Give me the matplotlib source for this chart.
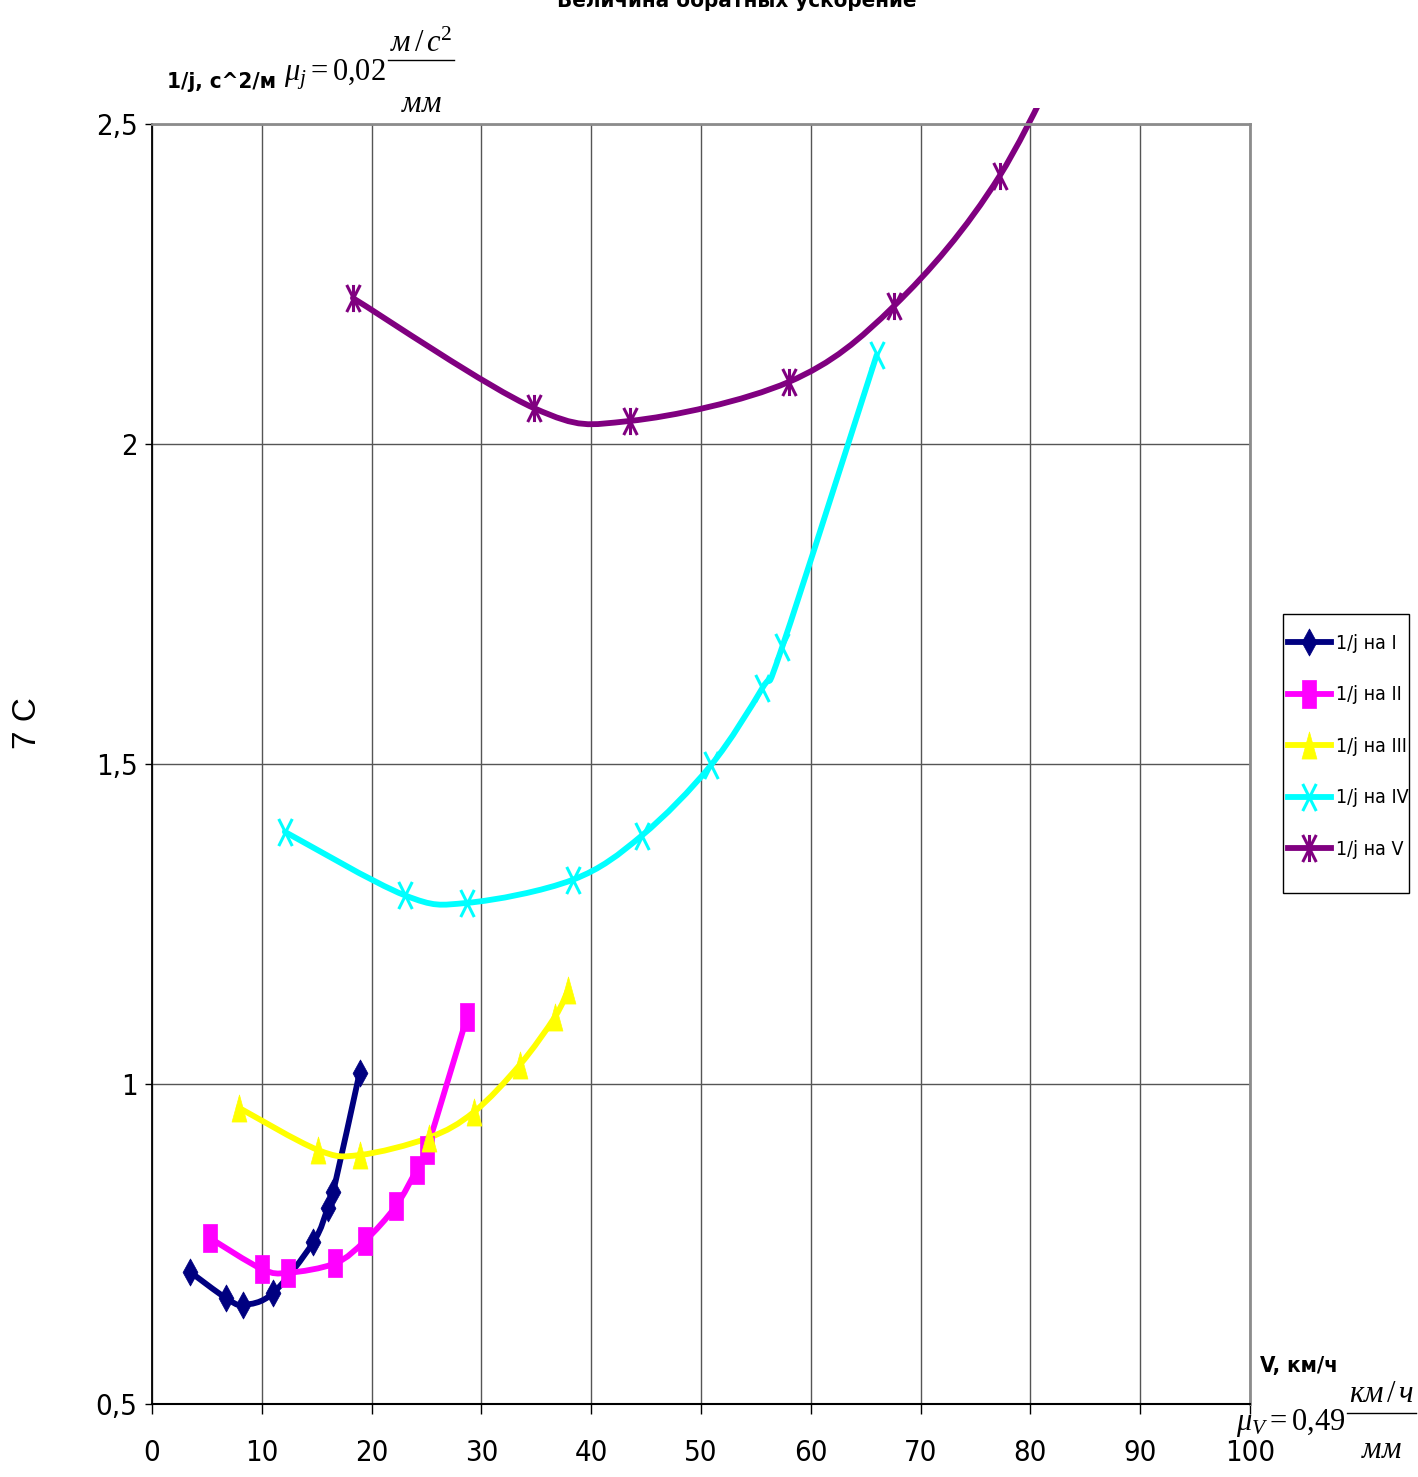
import matplotlib
matplotlib.use('Agg')
import matplotlib.pyplot as plt
from matplotlib import font_manager as fm
from matplotlib.path import Path
from matplotlib.patches import PathPatch, Rectangle
from matplotlib.lines import Line2D
from matplotlib.ticker import MultipleLocator, FuncFormatter
import numpy as np

# скорость V, км/ч и величина 1/j, с^2/м по передачам
v1 = [3.5, 6.7, 8.3, 11.0, 14.7, 16.0, 16.5, 18.9]
j1 = [0.706, 0.666, 0.655, 0.673, 0.753, 0.806, 0.831, 1.017]
v2 = [5.3, 10.0, 12.4, 16.7, 19.4, 22.2, 24.1, 25.0, 28.7]
j2 = [0.759, 0.711, 0.705, 0.720, 0.755, 0.809, 0.866, 0.897, 1.105]
v3 = [7.9, 15.1, 18.9, 25.2, 29.3, 33.5, 36.7, 37.9]
j3 = [0.963, 0.897, 0.889, 0.916, 0.956, 1.030, 1.105, 1.147]
v4 = [12.1, 23.0, 28.7, 38.3, 44.6, 50.9, 55.6, 57.4, 66.0]
j4 = [1.394, 1.295, 1.283, 1.319, 1.388, 1.498, 1.619, 1.683, 2.139]
v5 = [18.3, 34.8, 43.5, 58.0, 67.6, 77.2, 86.0]
j5 = [2.228, 2.056, 2.036, 2.097, 2.216, 2.419, 2.72]

names = ['1/j на I', '1/j на II', '1/j на III', '1/j на IV', '1/j на V']
colors = ['#000080', '#FF00FF', '#FFFF00', '#00FFFF', '#800080']

# ищем узкий шрифт (Arial Narrow и т.п.), иначе обычный Liberation Sans
narrow = None
order = ['Liberation', 'Arial', 'DejaVu', 'Roboto', 'Noto', 'Open']
cands = [f for f in fm.fontManager.ttflist
         if ('Narrow' in f.fname or 'Condensed' in f.fname or f.stretch == 'condensed')
         and f.style == 'normal' and 'Mono' not in f.fname and 'Serif' not in f.fname]
cands.sort(key=lambda f: next((i for i, o in enumerate(order) if o in f.name), 99))
if cands:
    narrow = cands[0]

if narrow is not None:
    plt.rcParams['font.family'] = [narrow.name, 'DejaVu Sans']
    plt.rcParams['font.stretch'] = narrow.stretch
    fs_tick, fs_leg, fs_lab = 21, 14, 16
else:
    plt.rcParams['font.family'] = ['Liberation Sans', 'DejaVu Sans']
    fs_tick, fs_leg, fs_lab = 19, 12, 14
plt.rcParams['mathtext.fontset'] = 'custom'
plt.rcParams['mathtext.rm'] = 'Liberation Serif'
plt.rcParams['mathtext.it'] = 'Liberation Serif:italic'
plt.rcParams['mathtext.bf'] = 'Liberation Serif:bold'

W, H = 1418, 1477
fig = plt.figure(figsize=(W / 100, H / 100), dpi=100)


def px(x, y):
    return x / W, 1 - y / H


# маркеры как в Excel (вытянутые по вертикали)
M, L = Path.MOVETO, Path.LINETO
diamond = Path([(0, 1), (0.55, 0), (0, -1), (-0.55, 0), (0, 1)], [M, L, L, L, Path.CLOSEPOLY])
square = Path([(-0.55, -1), (0.55, -1), (0.55, 1), (-0.55, 1), (-0.55, -1)], [M, L, L, L, Path.CLOSEPOLY])
triangle = Path([(0, 1), (0.55, -1), (-0.55, -1), (0, 1)], [M, L, L, Path.CLOSEPOLY])
xmark = Path([(-0.5, -1), (0.5, 1), (-0.5, 1), (0.5, -1)], [M, L, M, L])
star = Path([(-0.5, -1), (0.5, 1), (-0.5, 1), (0.5, -1), (0, -1), (0, 1)], [M, L, M, L, M, L])
markers = [diamond, square, triangle, xmark, star]
filled = [True, True, True, False, False]


def smooth(x, y):
    # сглаженная линия (как в Excel) через кривые Безье
    p = np.column_stack([x, y])
    n = len(p)
    verts = [p[0]]
    codes = [Path.MOVETO]
    for i in range(n - 1):
        p0 = p[i - 1] if i > 0 else p[i]
        p3 = p[i + 2] if i + 2 < n else p[i + 1]
        verts += [p[i] + (p[i + 1] - p0) / 6, p[i + 1] - (p3 - p[i]) / 6, p[i + 1]]
        codes += [Path.CURVE4] * 3
    return Path(verts, codes)


ax = fig.add_axes([152 / W, 1 - 1404 / H, (1250 - 152) / W, (1404 - 124) / H])
ax.set_xlim(0, 100)
ax.set_ylim(0.5, 2.5)
ax.xaxis.set_major_locator(MultipleLocator(10))
ax.yaxis.set_major_locator(MultipleLocator(0.5))
ax.yaxis.set_major_formatter(FuncFormatter(lambda v, p: ('%g' % v).replace('.', ',')))
ax.grid(True, color='#555555', lw=1.0)
ax.set_axisbelow(True)
ax.tick_params(axis='x', direction='out', length=7.2, width=1, pad=18, labelsize=fs_tick)
ax.tick_params(axis='y', direction='out', length=5, width=1, pad=5.5, labelsize=fs_tick)
for s in ['top', 'right']:
    ax.spines[s].set_color('#8c8c8c')
    ax.spines[s].set_linewidth(2)
ax.spines['left'].set_linewidth(1.3)
ax.spines['bottom'].set_linewidth(1.5)

clip = Rectangle((0, 0), 1, 1 + 16 / 1280, transform=ax.transAxes, fill=False, visible=False)
ax.add_patch(clip)

series = [(v1, j1), (v2, j2), (v3, j3), (v4, j4), (v5, j5)]
handles = []
for (v, j), c, mk, f, nm in zip(series, colors, markers, filled, names):
    line = PathPatch(smooth(v, j), facecolor='none', edgecolor=c, lw=4.2, capstyle='round', joinstyle='round')
    ax.add_patch(line)
    line.set_clip_path(clip)
    kw = dict(marker=mk, markersize=19.5, color=c, markerfacecolor=c if f else 'none',
              markeredgecolor=c, markeredgewidth=0.5 if f else 2.2)
    ax.plot(v, j, linestyle='none', **kw)
    handles.append(Line2D([], [], lw=4.2, label=nm, **kw))

# легенда без рамки + отдельная рамка
leg = fig.legend(handles=handles, loc='upper left', bbox_to_anchor=px(1288, 634), bbox_transform=fig.transFigure,
                 fontsize=fs_leg, frameon=False, borderaxespad=0, borderpad=0, labelspacing=1.67,
                 handlelength=2.2, handletextpad=0.25, numpoints=1)
fig.add_artist(Rectangle(px(1283, 893), 126 / W, 279 / H, transform=fig.transFigure,
                         fill=False, edgecolor='black', lw=1))

# подписи
fig.text(*px(737, 7), 'Величина обратных ускорение', ha='center', va='baseline', fontsize=fs_lab, fontweight='bold')
fig.text(*px(167, 88), '1/j, с^2/м', ha='left', va='baseline', fontsize=fs_lab, fontweight='bold')
fig.text(*px(1260, 1372), 'V, км/ч', ha='left', va='baseline', fontsize=fs_lab, fontweight='bold')
fig.text(*px(27, 723), '7 С', ha='center', va='center', rotation=90, fontsize=24,
         family=['Liberation Sans', 'DejaVu Sans'], stretch='normal')


def frac_label(x_left, base, head, num, den, d_num, d_line, d_den, right=None, fs=22):
    t = fig.text(0, 0, head, ha='left', va='baseline', fontsize=fs)
    n = fig.text(0, 0, num, ha='center', va='baseline', fontsize=fs)
    d = fig.text(0, 0, den, ha='center', va='baseline', fontsize=fs)
    fig.canvas.draw()
    wh = t.get_window_extent().width
    wf = max(n.get_window_extent().width, d.get_window_extent().width) + 4
    if right is not None:
        x_left = right - (wh + 2 + wf)
    t.set_position(px(x_left, base))
    cx = x_left + wh + 2 + wf / 2
    n.set_position(px(cx, base + d_num))
    d.set_position(px(cx, base + d_den))
    xa, ya = px(cx - wf / 2, base + d_line)
    xb, _ = px(cx + wf / 2, base + d_line)
    fig.add_artist(Line2D([xa, xb], [ya, ya], transform=fig.transFigure, color='black', lw=1))


frac_label(284, 80, r'$\mu_j = 0{,}02$', r'$м\,/\,с^2$', r'$мм$', -28, -20, 32)
frac_label(0, 1430, r'$\mu_V = 0{,}49$', r'$км\,/\,ч$', r'$мм$', -28, -17, 28, right=1416)

fig.savefig('out.png', dpi=100)
